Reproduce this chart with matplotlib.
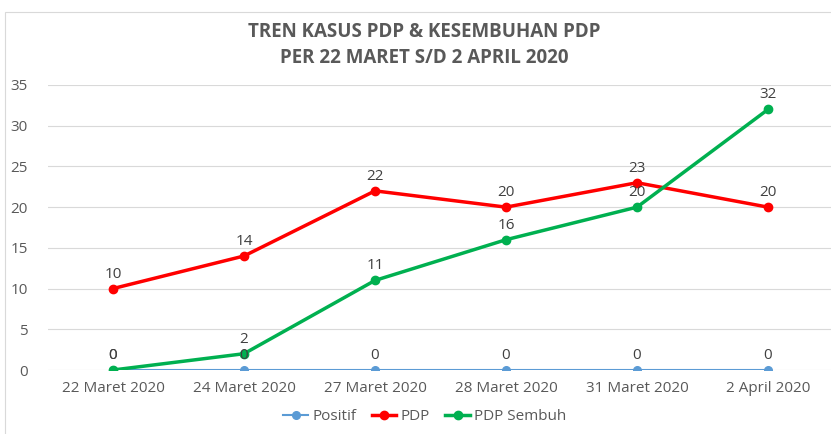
import matplotlib.pyplot as plt
from matplotlib.patches import Rectangle

# Data
dates = ['22 Maret 2020', '24 Maret 2020', '27 Maret 2020', '28 Maret 2020', '31 Maret 2020', '2 April 2020']
positif = [0, 0, 0, 0, 0, 0]
pdp = [10, 14, 22, 20, 23, 20]
pdp_sembuh = [0, 2, 11, 16, 20, 32]

plt.rcParams['font.family'] = ['Open Sans', 'DejaVu Sans']

fig = plt.figure(figsize=(8.31, 4.34), dpi=100)
W, H = 831, 434
# axes: x from 47.5 px to 833.5 px, y from 370 (0) to 85 (35)
ax = fig.add_axes([47.5 / W, (H - 370) / H, 786 / W, 285 / H])

# chart border
fig.patches.append(Rectangle((5 / W, -0.1), 1.2, (H - 12) / H + 0.1, transform=fig.transFigure,
                             fill=False, edgecolor='#d9d9d9', linewidth=0.8))

x = list(range(len(dates)))
ax.plot(x, positif, color='#5B9BD5', linewidth=1.5, marker='o', markersize=5.5, label='Positif', zorder=3)
ax.plot(x, pdp, color='#FF0000', linewidth=2.5, marker='o', markersize=6, label='PDP', zorder=4)
ax.plot(x, pdp_sembuh, color='#00B050', linewidth=2.5, marker='o', markersize=6, label='PDP Sembuh', zorder=5)

for series in (positif, pdp, pdp_sembuh):
    for xi, v in zip(x, series):
        ax.annotate(str(v), (xi, v), xytext=(0, 5), textcoords='offset points',
                    ha='center', va='bottom', fontsize=11, color='#404040', zorder=6)

ax.set_xlim(-0.5, 5.5)
ax.set_ylim(0, 35)
ax.set_yticks(range(0, 36, 5))
ax.set_xticks(x)
ax.set_xticklabels(dates)
ax.tick_params(axis='both', length=0, labelsize=11, labelcolor='#595959')
ax.tick_params(axis='x', pad=8)
ax.tick_params(axis='y', pad=14)
ax.grid(axis='y', color='#d9d9d9', linewidth=0.8)
ax.set_axisbelow(True)
for s in ax.spines.values():
    s.set_visible(False)

fig.text(424 / W, 1 - 32 / H, 'TREN KASUS PDP & KESEMBUHAN PDP', ha='center', va='center',
         fontsize=13.5, fontweight='bold', color='#595959', family=['Liberation Sans Narrow', 'Open Sans'])
fig.text(424 / W, 1 - 58 / H, 'PER 22 MARET S/D 2 APRIL 2020', ha='center', va='center',
         fontsize=13.5, fontweight='bold', color='#595959', family=['Liberation Sans Narrow', 'Open Sans'])

fig.legend(loc='center', bbox_to_anchor=(425 / W, 1 - 417 / H), ncol=3, frameon=False,
           fontsize=11, labelcolor='#595959', handlelength=1.6, handletextpad=0.3, columnspacing=1.0)

fig.savefig('out.png', dpi=100)
